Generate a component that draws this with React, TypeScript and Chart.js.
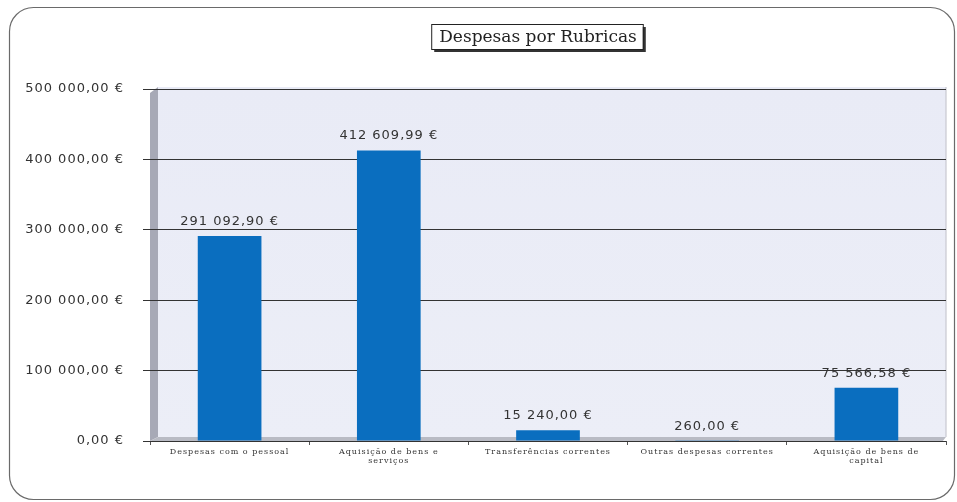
import React, { useEffect, useRef } from "react";
import { Chart, registerables } from "chart.js";

Chart.register(...registerables);

const categories: (string | string[])[] = [
  "Despesas com o pessoal",
  ["Aquisição de bens e", "serviços"],
  "Transferências correntes",
  "Outras despesas correntes",
  ["Aquisição de bens de", "capital"],
];
const values = [291092.9, 412609.99, 15240.0, 260.0, 75566.58];
const chartTitle = "Despesas por Rubricas";
const yMax = 500000;
const yStep = 100000;

const fmt = (v: number) => {
  const [i, d] = v.toFixed(2).split(".");
  const g = i.replace(/\B(?=(\d{3})+(?!\d))/g, " ");
  return `${g},${d} €`;
};

const decorPlugin = {
  id: "decor",
  beforeDraw(chart: any) {
    const { ctx, chartArea: a, width, height } = chart;
    ctx.save();
    ctx.fillStyle = "#ffffff";
    ctx.fillRect(0, 0, width, height);
    // outer rounded frame
    ctx.beginPath();
    ctx.roundRect(9.5, 7.5, width - 12, height - 10, 24);
    ctx.strokeStyle = "#6a6a6a";
    ctx.lineWidth = 1.2;
    ctx.stroke();
    // back wall
    const d = 8;
    const g = ctx.createLinearGradient(0, a.top, 0, a.bottom);
    g.addColorStop(0, "#e9ebf6");
    g.addColorStop(1, "#eceef7");
    ctx.fillStyle = g;
    ctx.fillRect(a.left + d, a.top - 2, a.right - a.left - d, a.bottom - a.top - 2);
    // left wall
    ctx.beginPath();
    ctx.moveTo(a.left, a.top + 4);
    ctx.lineTo(a.left + d, a.top - 2);
    ctx.lineTo(a.left + d, a.bottom - 4);
    ctx.lineTo(a.left, a.bottom);
    ctx.closePath();
    ctx.fillStyle = "#a7a9b6";
    ctx.fill();
    // floor
    ctx.beginPath();
    ctx.moveTo(a.left, a.bottom);
    ctx.lineTo(a.left + d, a.bottom - 4);
    ctx.lineTo(a.right, a.bottom - 4);
    ctx.lineTo(a.right - 4, a.bottom + 1);
    ctx.closePath();
    ctx.fillStyle = "#b9bbc4";
    ctx.fill();
    // right edge
    ctx.strokeStyle = "#c8c8d0";
    ctx.beginPath();
    ctx.moveTo(a.right, a.top - 2);
    ctx.lineTo(a.right, a.bottom - 4);
    ctx.stroke();
    ctx.restore();
    ctx.letterSpacing = "1px";
  },
  afterDatasetsDraw(chart: any) {
    const { ctx } = chart;
    const meta = chart.getDatasetMeta(0);
    ctx.save();
    ctx.letterSpacing = "1px";
    ctx.font = "13px 'DejaVu Sans'";
    ctx.fillStyle = "#333333";
    ctx.textAlign = "center";
    ctx.textBaseline = "bottom";
    meta.data.forEach((bar: any, i: number) => {
      ctx.fillText(fmt(values[i]), bar.x, bar.y - 8);
    });
    // title box
    ctx.letterSpacing = "0px";
    const cx = 537;
    ctx.font = "17px 'DejaVu Serif'";
    const tw = ctx.measureText(chartTitle).width;
    const bw = tw + 14;
    const bh = 25;
    const bx = cx - bw / 2;
    const by = 24;
    ctx.fillStyle = "#333333";
    ctx.fillRect(bx + 3, by + 3, bw, bh);
    ctx.fillStyle = "#ffffff";
    ctx.fillRect(bx, by, bw, bh);
    ctx.strokeStyle = "#222222";
    ctx.lineWidth = 1;
    ctx.strokeRect(bx + 0.5, by + 0.5, bw, bh);
    ctx.fillStyle = "#222222";
    ctx.textBaseline = "middle";
    ctx.fillText(chartTitle, cx + 1, by + bh / 2 + 1);
    ctx.restore();
  },
};

export default function App() {
  const ref = useRef<HTMLCanvasElement | null>(null);
  useEffect(() => {
    if (!ref.current) return;
    const chart = new Chart(ref.current, {
      type: "bar",
      data: {
        labels: categories,
        datasets: [
          {
            data: values,
            backgroundColor: "#0a6ebf",
            borderWidth: 0,
            barPercentage: 0.4,
            categoryPercentage: 1,
          },
        ],
      },
      options: {
        animation: false,
        responsive: false,
        layout: { padding: { top: 89, right: 11, left: 0, bottom: 0 } },
        plugins: { legend: { display: false }, tooltip: { enabled: false }, title: { display: false } },
        scales: {
          x: {
            grid: { display: true, drawOnChartArea: false, offset: true, color: "#555", tickLength: 4 },
            border: { display: false },
            ticks: {
              font: { family: "'DejaVu Serif'", size: 8 },
              color: "#333",
              maxRotation: 0,
              autoSkip: false,
              padding: 2,
            },
            afterFit: (s: any) => {
              s.height = 61;
            },
          },
          y: {
            min: 0,
            max: yMax,
            ticks: {
              stepSize: yStep,
              callback: (v: any) => fmt(Number(v)),
              font: { family: "'DejaVu Sans'", size: 13 },
              color: "#333",
              padding: 19,
            },
            grid: { color: "#333", lineWidth: 1, tickLength: 7 },
            border: { display: false },
            afterFit: (s: any) => {
              s.width = 150;
            },
          },
        },
      },
      plugins: [decorPlugin],
    });
    return () => chart.destroy();
  }, []);
  return (
    <div style={{ position: "fixed", left: 0, top: 0, width: 957, height: 502, background: "#fff" }}>
      <canvas ref={ref} width={957} height={502} style={{ width: 957, height: 502 }} />
    </div>
  );
}
